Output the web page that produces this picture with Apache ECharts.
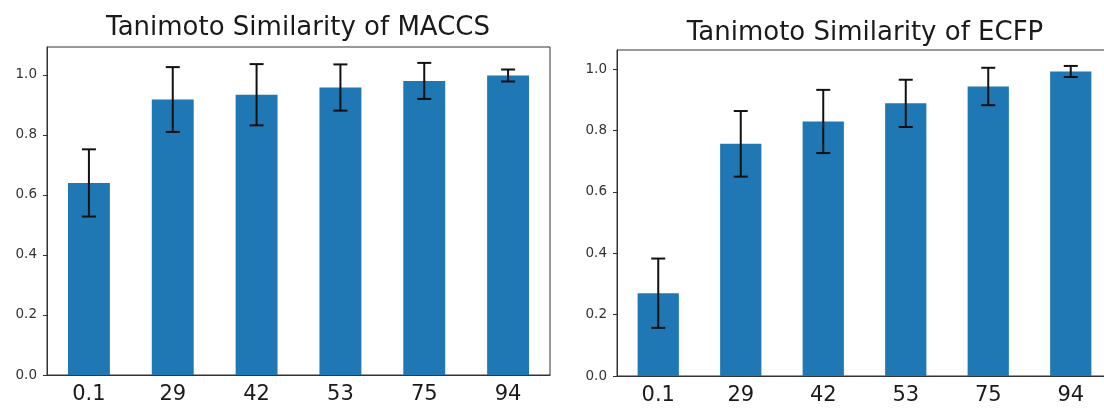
<!DOCTYPE html>
<html>
<head>
<meta charset="utf-8">
<script src="https://cdn.jsdelivr.net/npm/echarts@6/dist/echarts.min.js"></script>
<style>
html,body{margin:0;padding:0;background:#fff;overflow:hidden;width:1104px;height:408px;}
#c{width:1124px;height:408px;}
</style>
</head>
<body>
<div id="c"></div>
<script>
const categories = ['0.1', '29', '42', '53', '75', '94'];
const maccsMean = [0.640, 0.918, 0.934, 0.958, 0.980, 0.998];
const maccsErr  = [0.112, 0.108, 0.102, 0.077, 0.060, 0.020];
const ecfpMean  = [0.270, 0.757, 0.830, 0.889, 0.944, 0.993];
const ecfpErr   = [0.113, 0.107, 0.103, 0.077, 0.061, 0.018];
const yTicks = [0, 0.2, 0.4, 0.6, 0.8, 1.0];
const titles = ['Tanimoto Similarity of MACCS', 'Tanimoto Similarity of ECFP'];

const FONT = 'DejaVu Sans';
const chart = echarts.init(document.getElementById('c'), null, {renderer: 'canvas'});

function errRender(params, api) {
  const x = api.value(0), v = api.value(1), e = api.value(2);
  const t = api.coord([x, v + e]);
  const b = api.coord([x, v - e]);
  const hw = 7;
  const st = {stroke: '#111', lineWidth: 2};
  return {
    type: 'group',
    children: [
      {type: 'line', shape: {x1: t[0], y1: t[1], x2: b[0], y2: b[1]}, style: st},
      {type: 'line', shape: {x1: t[0] - hw, y1: t[1], x2: t[0] + hw, y2: t[1]}, style: st},
      {type: 'line', shape: {x1: b[0] - hw, y1: b[1], x2: b[0] + hw, y2: b[1]}, style: st}
    ]
  };
}

function xAx(gi) {
  return {
    type: 'category', gridIndex: gi, data: categories,
    boundaryGap: true,
    axisLine: {lineStyle: {color: '#333', width: 1}},
    axisTick: {alignWithLabel: true, length: 5, lineStyle: {color: '#333'}},
    axisLabel: {fontFamily: FONT, fontSize: 21, color: '#1a1a1a', margin: 9},
    splitLine: {show: false}
  };
}
function yAx(gi, max) {
  return {
    type: 'value', gridIndex: gi, min: 0, max: max, interval: 0.2,
    axisLine: {show: true, lineStyle: {color: '#333', width: 1}},
    axisTick: {show: true, length: 4, lineStyle: {color: '#333'}, customValues: yTicks},
    axisLabel: {fontFamily: FONT, fontSize: 13.5, color: '#333', margin: 10,
      customValues: yTicks, formatter: v => v.toFixed(1)},
    splitLine: {show: false}
  };
}

const option = {
  animation: false,
  backgroundColor: '#fff',
  grid: [
    {left: 47, top: 47, width: 503, height: 328, show: true, borderColor: '#333', borderWidth: 1, backgroundColor: 'transparent', containLabel: false},
    {left: 617, top: 50, width: 495, height: 326, show: true, borderColor: '#333', borderWidth: 1, backgroundColor: 'transparent', containLabel: false}
  ],
  xAxis: [xAx(0), xAx(1)],
  yAxis: [yAx(0, 1.093), yAx(1, 1.063)],
  graphic: [
    {type: 'text', x: 298, y: 28.5, style: {text: titles[0], fontFamily: FONT, fontSize: 26, fill: '#1a1a1a', align: 'center', verticalAlign: 'middle'}},
    {type: 'text', x: 865, y: 33.5, style: {text: titles[1], fontFamily: FONT, fontSize: 26, fill: '#1a1a1a', align: 'center', verticalAlign: 'middle'}}
  ],
  series: [
    {type: 'bar', xAxisIndex: 0, yAxisIndex: 0, data: maccsMean, barWidth: '50%',
      itemStyle: {color: '#1f77b4'}, z: 2},
    {type: 'bar', xAxisIndex: 1, yAxisIndex: 1, data: ecfpMean, barWidth: '50%',
      itemStyle: {color: '#1f77b4'}, z: 2},
    {type: 'custom', xAxisIndex: 0, yAxisIndex: 0, renderItem: errRender, z: 5,
      data: maccsMean.map((v, i) => [i, v, maccsErr[i]])},
    {type: 'custom', xAxisIndex: 1, yAxisIndex: 1, renderItem: errRender, z: 5,
      data: ecfpMean.map((v, i) => [i, v, ecfpErr[i]])}
  ]
};
chart.setOption(option);
</script>
</body>
</html>
